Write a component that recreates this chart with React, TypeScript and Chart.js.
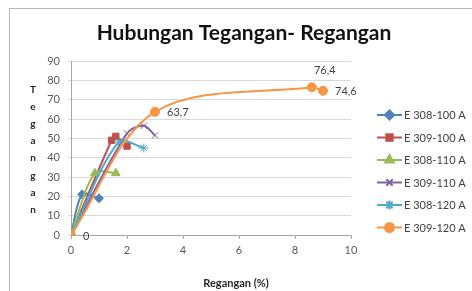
import React, { useEffect, useRef } from 'react';
import { Chart, registerables } from 'chart.js';
import { drawPoint } from 'chart.js/helpers';

Chart.register(...registerables);

const chartTitle = 'Hubungan Tegangan- Regangan';
const xAxisTitle = 'Regangan (%)';
const yAxisTitle = 'Tegangan';

const seriesNames = ['E 308-100 A', 'E 309-100 A', 'E 308-110 A', 'E 309-110 A', 'E 308-120 A', 'E 309-120 A'];
const seriesColors = ['#4F81BD', '#C0504D', '#9BBB59', '#8064A2', '#4BACC6', '#F79646'];
const seriesMarkers = ['rectRot', 'rect', 'triangle', 'crossRot', 'star', 'circle'];
const seriesMarkerRadius = [4.5, 4.5, 5, 4.5, 4.5, 4.5];

const e308_100_x = [0, 0.4, 1.0];
const e308_100_y = [0, 21, 19];
const e309_100_x = [0, 1.45, 1.6, 2.0];
const e309_100_y = [0, 49, 51, 46];
const e308_110_x = [0, 0.85, 1.6];
const e308_110_y = [0, 32, 32];
const e309_110_x = [0, 2.0, 2.6, 3.0];
const e309_110_y = [0, 52.5, 56.5, 51.5];
const e308_120_x = [0, 1.7, 2.6];
const e308_120_y = [0, 48, 45];
const e309_120_x = [0, 3.0, 8.6, 9.0];
const e309_120_y = [0, 63.7, 76.4, 74.6];

const seriesX = [e308_100_x, e309_100_x, e308_110_x, e309_110_x, e308_120_x, e309_120_x];
const seriesY = [e308_100_y, e309_100_y, e308_110_y, e309_110_y, e308_120_y, e309_120_y];

const labeledSeries = 5;
const pointLabels = ['0', '63,7', '76,4', '74,6'];
const pointLabelPlacement = ['right', 'right', 'above', 'right'];

const xTickValues = [0, 2, 4, 6, 8, 10];
const yTickValues = [0, 10, 20, 30, 40, 50, 60, 70, 80, 90];

const FONT = 'Lato, "Open Sans", sans-serif';

const overlayPlugin = {
  id: 'overlay',
  beforeDraw(chart: any) {
    const ctx = chart.ctx;
    ctx.save();
    ctx.fillStyle = '#ffffff';
    ctx.fillRect(0, 0, chart.width, chart.height);
    ctx.strokeStyle = '#b5b5b5';
    ctx.lineWidth = 1;
    ctx.strokeRect(9.5, 8.5, chart.width + 20, chart.height + 20);
    ctx.restore();
  },
  afterDraw(chart: any) {
    const ctx = chart.ctx;
    ctx.save();
    // main title
    ctx.fillStyle = '#111111';
    ctx.font = `bold 21px ${FONT}`;
    ctx.textAlign = 'center';
    ctx.textBaseline = 'middle';
    ctx.fillText(chartTitle, 244, 33);

    // y axis title, stacked letters
    ctx.fillStyle = '#262626';
    ctx.font = `bold 10px ${FONT}`;
    ctx.textAlign = 'center';
    ctx.textBaseline = 'alphabetic';
    const letters = yAxisTitle.split('');
    letters.forEach((ch, i) => ctx.fillText(ch, 33, 93 + i * 17.1));

    // x axis title
    ctx.font = `bold 11px ${FONT}`;
    ctx.textBaseline = 'middle';
    ctx.fillText(xAxisTitle, 236, 283);

    // data labels
    const meta = chart.getDatasetMeta(labeledSeries);
    ctx.fillStyle = '#404040';
    ctx.font = `11px ${FONT}`;
    meta.data.forEach((pt: any, i: number) => {
      const txt = pointLabels[i];
      if (!txt) return;
      if (pointLabelPlacement[i] === 'above') {
        ctx.textAlign = 'center';
        ctx.fillText(txt, pt.x + 13, pt.y - 16.5);
      } else {
        ctx.textAlign = 'left';
        ctx.fillText(txt, pt.x + 12, pt.y + 1);
      }
    });

    // legend
    ctx.font = `11px ${FONT}`;
    ctx.textAlign = 'left';
    ctx.textBaseline = 'middle';
    seriesNames.forEach((name, i) => {
      const y = 115 + i * 22.5;
      ctx.strokeStyle = seriesColors[i];
      ctx.lineWidth = 2;
      ctx.beginPath();
      ctx.moveTo(377, y);
      ctx.lineTo(402, y);
      ctx.stroke();
      ctx.fillStyle = seriesColors[i];
      ctx.strokeStyle = seriesColors[i];
      drawPoint(ctx, { pointStyle: seriesMarkers[i], radius: seriesMarkerRadius[i], rotation: 0, borderWidth: 1 } as any, 389.5, y);
      ctx.fillStyle = '#404040';
      ctx.fillText(name, 404, y + 0.5);
    });
    ctx.restore();
  },
};

export default function App() {
  const ref = useRef<HTMLCanvasElement | null>(null);
  useEffect(() => {
    if (!ref.current) return;
    const datasets = seriesNames.map((name, i) => ({
      label: name,
      data: seriesX[i].map((x, j) => ({ x, y: seriesY[i][j] })),
      showLine: true,
      borderColor: seriesColors[i],
      backgroundColor: seriesColors[i],
      borderWidth: 2,
      tension: 0.33,
      pointStyle: seriesMarkers[i],
      pointRadius: seriesMarkerRadius[i],
      pointBorderWidth: 1,
      order: seriesNames.length - 1 - i,
    }));
    const chart = new Chart(ref.current, {
      type: 'scatter',
      data: { datasets },
      options: {
        responsive: false,
        animation: false,
        devicePixelRatio: 1,
        layout: { padding: { left: 0, top: 61, right: 121, bottom: 0 } },
        plugins: { legend: { display: false }, title: { display: false }, tooltip: { enabled: false } },
        scales: {
          x: {
            type: 'linear',
            min: 0,
            max: 10,
            afterFit: (s: any) => { s.height = 56; },
            afterBuildTicks: (s: any) => { s.ticks = xTickValues.map((v) => ({ value: v })); },
            grid: { drawOnChartArea: false, drawTicks: true, tickLength: 4, color: '#a6a6a6' },
            border: { color: '#a6a6a6' },
            ticks: { padding: 5, color: '#595959', font: { family: FONT, size: 11 }, maxRotation: 0 },
          },
          y: {
            type: 'linear',
            min: 0,
            max: 90,
            afterFit: (s: any) => { s.width = 71; },
            afterBuildTicks: (s: any) => { s.ticks = yTickValues.map((v) => ({ value: v })); },
            grid: { color: '#d9d9d9', tickLength: 3 },
            border: { color: '#a6a6a6' },
            ticks: { padding: 8, color: '#595959', font: { family: FONT, size: 11 } },
          },
        },
      },
      plugins: [overlayPlugin],
    });
    return () => chart.destroy();
  }, []);
  return (
    <div style={{ position: 'absolute', left: 0, top: 0, width: 472, height: 291 }}>
      <canvas ref={ref} width={472} height={291} />
    </div>
  );
}
